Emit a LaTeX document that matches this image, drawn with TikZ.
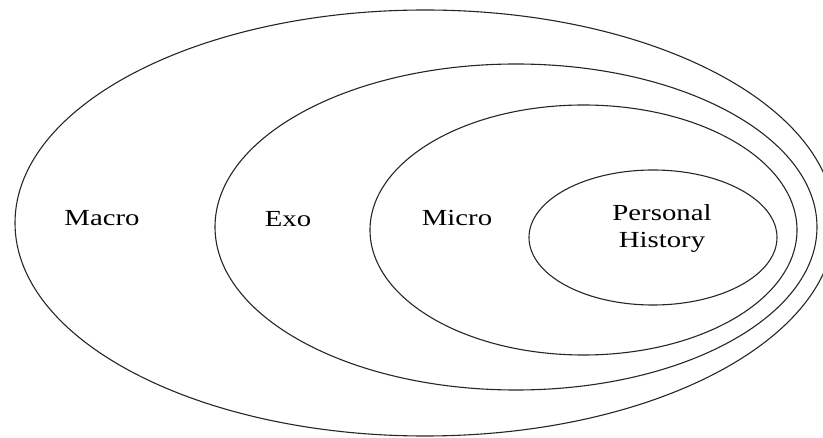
\documentclass[tikz,border=0pt]{standalone}
\usepackage{fontspec}
\setmainfont{Liberation Serif}
\begin{document}
\begin{tikzpicture}[x=1pt,y=-1pt,
  ring/.style={draw=black!85, line width=1.1pt},
  lbl/.style={font=\fontsize{23}{27}\selectfont, align=center, inner sep=0pt}]
  \useasboundingbox (0,0) rectangle (823,438);
  \clip (0,0) rectangle (823,438);
  % nested systems, outermost first
  \draw[ring] (425,223) ellipse [x radius=410, y radius=213];
  \draw[ring] (516,227) ellipse [x radius=301, y radius=163];
  \draw[ring] (583.5,230) ellipse [x radius=213.5, y radius=125];
  \draw[ring] (653,237.5) ellipse [x radius=124, y radius=67.5];
  % labels (set slightly wide)
  \node[lbl, anchor=base] (macro) at (102,226) {\scalebox{1.25}[1]{Macro}};
  \node[lbl, anchor=base] (exo) at (288,227) {\scalebox{1.25}[1]{Exo}};
  \node[lbl, anchor=base] (micro) at (457,226) {\scalebox{1.25}[1]{Micro}};
  \node[lbl] (personal) at (662,229) {\scalebox{1.25}[1]{Personal}\\\scalebox{1.25}[1]{History}};
\end{tikzpicture}
\end{document}
